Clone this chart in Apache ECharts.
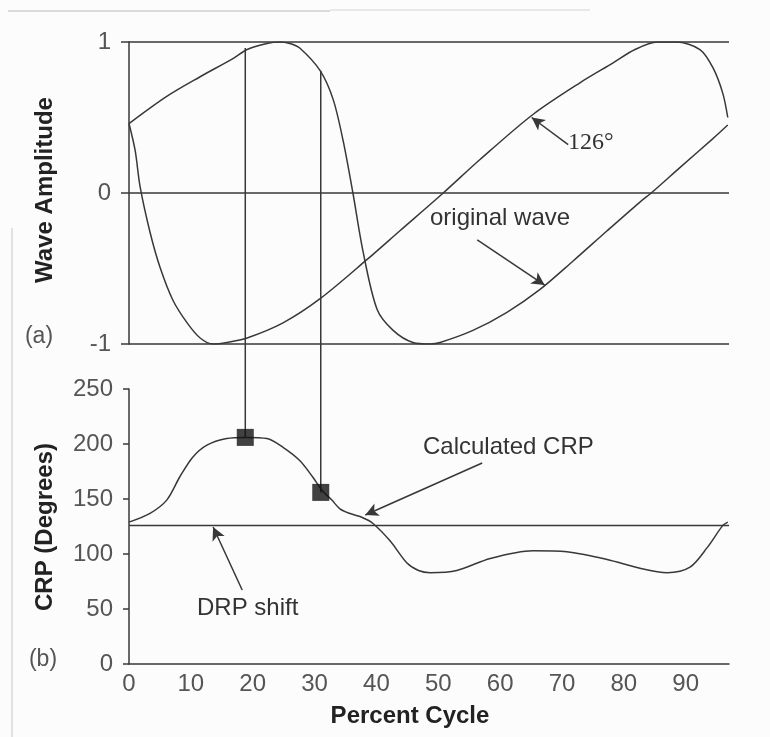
<!DOCTYPE html>
<html>
<head>
<meta charset="utf-8">
<script src="https://cdn.jsdelivr.net/npm/echarts@6/dist/echarts.min.js"></script>
<style>
  html, body { margin: 0; background: #fcfcfc; }
  #chart { width: 770px; height: 737px; }
</style>
</head>
<body>
<div id="chart"></div>
<script>
// values (x = percent cycle)
const origX = [0, 6.1, 11.5, 16.8, 19.1, 22.3, 24.3, 26.0, 27.6, 30.9, 33.0, 34.6, 36.2, 37.8, 40.1, 42.7, 45.9, 48.7, 50.3, 55.6, 61.1, 66.4, 71.8, 77.3, 82.6, 84.7, 89.1, 94.4, 96.8];
const origY = [0.46, 0.64, 0.77, 0.89, 0.95, 0.99, 1.0, 0.99, 0.96, 0.81, 0.62, 0.35, 0, -0.38, -0.77, -0.91, -0.99, -1.0, -0.99, -0.91, -0.79, -0.64, -0.45, -0.25, -0.06, 0.01, 0.17, 0.36, 0.45];

const shiftX = [0, 1.0, 1.8, 3.4, 5.0, 7.1, 9.4, 11.5, 13.6, 15.8, 19.1, 24.9, 30.9, 38.5, 43.8, 50.8, 56.7, 65.3, 72.9, 78.2, 81.8, 85.4, 88.5, 92.3, 94.4, 96.0, 96.8];
const shiftY = [0.46, 0.28, 0.04, -0.26, -0.49, -0.71, -0.86, -0.96, -1.0, -0.99, -0.96, -0.86, -0.70, -0.44, -0.25, 0, 0.22, 0.52, 0.73, 0.86, 0.95, 1.0, 1.0, 0.95, 0.83, 0.66, 0.5];

const crpX = [0, 3.4, 6.1, 8.2, 10.3, 12.6, 15.8, 18.9, 22.3, 24.9, 27.6, 29.7, 31.2, 32.8, 34.1, 35.6, 37.8, 39.4, 42.2, 44.9, 46.8, 48.7, 53.0, 58.4, 65.3, 70.8, 77.3, 82.6, 87.0, 90.7, 93.5, 96.0, 96.8];
const crpY = [129, 137, 149, 170, 188, 199, 205, 206, 205, 197, 185, 170, 158, 149, 141, 137, 133, 128, 112, 92, 85, 83, 85, 96, 103, 102, 95, 87, 83, 88, 106, 126, 129];

const drpShift = 126;

// picked points: percent cycle, wave value, CRP value
const pickX = [18.8, 31.0];
const pickWave = [0.96, 0.81];
const pickCrp = [206, 156];

const xTicks = [0, 10, 20, 30, 40, 50, 60, 70, 80, 90];

const FONT = "'Liberation Sans', Arial, sans-serif";
const LINE = '#383838';
const TICK = '#555';

// plot layout (px)
const L = 129, W = 600;
const topA = 42, hA = 302;
const topB = 389, hB = 275;
const xMax = 97, yMaxB = 250;
// CRP value at the bottom edge of panel (a), so the connectors cross the gap
const bridge = yMaxB + (topB - (topA + hA)) * yMaxB / hB;

const zip = (xs, ys) => xs.map((x, i) => [x, ys[i]]);
const arrow = (from, to) => [{ coord: from }, { coord: to }];
const arrowStyle = {
  silent: true,
  symbol: ['none', 'arrow'],
  symbolSize: [10, 13],
  label: { show: false },
  lineStyle: { color: LINE, width: 1.5, type: 'solid' },
  emphasis: { disabled: true }
};
const curve = { smooth: 0.3, showSymbol: false, lineStyle: { color: LINE, width: 1.5 } };

const chart = echarts.init(document.getElementById('chart'));

const option = {
  animation: false,
  backgroundColor: '#fcfcfc',
  grid: [
    { left: L, top: topA, width: W, height: hA },
    { left: L, top: topB, width: W, height: hB }
  ],
  xAxis: [
    { type: 'value', gridIndex: 0, min: 0, max: xMax, show: false },
    {
      type: 'value', gridIndex: 1, min: 0, max: xMax, interval: 10,
      axisLine: { lineStyle: { color: LINE, width: 1.5 } },
      axisTick: { show: false },
      splitLine: { show: false },
      axisLabel: {
        color: TICK, fontSize: 24, fontFamily: FONT, margin: 8,
        showMaxLabel: false,
        formatter: v => (xTicks.includes(v) ? String(v) : '')
      }
    }
  ],
  yAxis: [
    {
      type: 'value', gridIndex: 0, min: -1, max: 1, interval: 1,
      axisLine: { show: true, lineStyle: { color: LINE, width: 1.5 } },
      axisTick: { show: true, length: 8, lineStyle: { color: LINE, width: 1.5 } },
      splitLine: { show: true, lineStyle: { color: LINE, width: 1.5 } },
      axisLabel: { color: TICK, fontSize: 24, fontFamily: FONT, margin: 18 }
    },
    {
      type: 'value', gridIndex: 1, min: 0, max: yMaxB, interval: 50,
      axisLine: { show: true, lineStyle: { color: LINE, width: 1.5 } },
      axisTick: { show: true, length: 6, lineStyle: { color: LINE, width: 1.5 } },
      splitLine: { show: false },
      axisLabel: { color: TICK, fontSize: 24, fontFamily: FONT, margin: 16 }
    }
  ],
  series: [
    Object.assign({
      name: 'original wave', type: 'line', xAxisIndex: 0, yAxisIndex: 0,
      data: zip(origX, origY),
      markLine: Object.assign({ data: [arrow([56.3, -0.31], [67.2, -0.61])] }, arrowStyle)
    }, curve),
    Object.assign({
      name: '126°', type: 'line', xAxisIndex: 0, yAxisIndex: 0,
      data: zip(shiftX, shiftY),
      markLine: Object.assign({ data: [arrow([71.0, 0.32], [65.1, 0.50])] }, arrowStyle)
    }, curve),
    ...pickX.map((x, i) => ({
      type: 'line', xAxisIndex: 0, yAxisIndex: 0,
      data: [[x, pickWave[i]], [x, -1]], showSymbol: false,
      lineStyle: { color: LINE, width: 1.5 }
    })),
    ...pickX.map((x, i) => ({
      type: 'line', xAxisIndex: 1, yAxisIndex: 1, clip: false,
      data: [[x, pickCrp[i]], [x, bridge]], showSymbol: false,
      lineStyle: { color: LINE, width: 1.5 }
    })),
    Object.assign({
      name: 'Calculated CRP', type: 'line', xAxisIndex: 1, yAxisIndex: 1,
      data: zip(crpX, crpY),
      markLine: Object.assign({ data: [arrow([57.1, 182.7], [38.2, 135.5])] }, arrowStyle)
    }, curve),
    {
      name: 'DRP shift', type: 'line', xAxisIndex: 1, yAxisIndex: 1,
      data: [[0, drpShift], [xMax, drpShift]], showSymbol: false,
      lineStyle: { color: LINE, width: 1.5 },
      markLine: Object.assign({ data: [arrow([18.3, 67.3], [13.6, 124.5])] }, arrowStyle)
    },
    {
      type: 'scatter', xAxisIndex: 1, yAxisIndex: 1,
      data: zip(pickX, pickCrp), symbol: 'rect', symbolSize: 17,
      itemStyle: { color: '#111' }, z: 5
    }
  ],
  graphic: [
    // faint scan edges
    { type: 'line', shape: { x1: 8, y1: 11, x2: 330, y2: 11 }, style: { stroke: '#cfcfcf', lineWidth: 1.5 } },
    { type: 'line', shape: { x1: 330, y1: 10, x2: 590, y2: 10 }, style: { stroke: '#e2e2e2', lineWidth: 1.5 } },
    { type: 'line', shape: { x1: 12, y1: 228, x2: 12, y2: 737 }, style: { stroke: '#d8d8d8', lineWidth: 1.5 } },
    {
      type: 'text', x: 45, y: 190, rotation: Math.PI / 2,
      style: { text: 'Wave Amplitude', font: 'bold 24px ' + FONT, fill: '#222', align: 'center', verticalAlign: 'middle' }
    },
    {
      type: 'text', x: 45, y: 527, rotation: Math.PI / 2,
      style: { text: 'CRP (Degrees)', font: 'bold 24px ' + FONT, fill: '#222', align: 'center', verticalAlign: 'middle' }
    },
    {
      type: 'text', x: 410, y: 716,
      style: { text: 'Percent Cycle', font: 'bold 24px ' + FONT, fill: '#222', align: 'center', verticalAlign: 'middle' }
    },
    { type: 'text', x: 39, y: 337, style: { text: '(a)', font: '23px ' + FONT, fill: TICK, align: 'center', verticalAlign: 'middle' } },
    { type: 'text', x: 43, y: 660, style: { text: '(b)', font: '23px ' + FONT, fill: TICK, align: 'center', verticalAlign: 'middle' } },
    { type: 'text', x: 568, y: 143, style: { text: '126°', font: "24px 'Liberation Serif', 'Times New Roman', serif", fill: '#333', align: 'left', verticalAlign: 'middle' } },
    { type: 'text', x: 430, y: 218, style: { text: 'original wave', font: '24px ' + FONT, fill: '#333', align: 'left', verticalAlign: 'middle' } },
    { type: 'text', x: 423, y: 447, style: { text: 'Calculated CRP', font: '24px ' + FONT, fill: '#333', align: 'left', verticalAlign: 'middle' } },
    { type: 'text', x: 197, y: 608, style: { text: 'DRP shift', font: '24px ' + FONT, fill: '#333', align: 'left', verticalAlign: 'middle' } }
  ]
};

chart.setOption(option);
</script>
</body>
</html>
